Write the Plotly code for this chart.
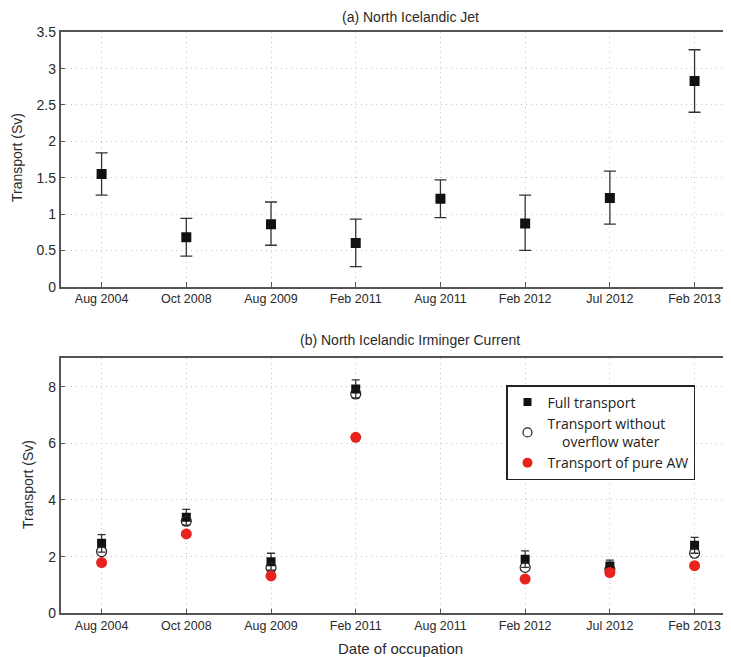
import plotly.graph_objects as go

categories = ["Aug 2004", "Oct 2008", "Aug 2009", "Feb 2011", "Aug 2011", "Feb 2012", "Jul 2012", "Feb 2013"]

# (a) North Icelandic Jet
nij = [1.55, 0.68, 0.86, 0.60, 1.21, 0.87, 1.22, 2.83]
nij_upper = [1.84, 0.94, 1.165, 0.93, 1.47, 1.26, 1.59, 3.26]
nij_lower = [1.26, 0.42, 0.57, 0.275, 0.95, 0.50, 0.86, 2.40]

# (b) North Icelandic Irminger Current (no Aug 2011 value)
niic_full = [2.47, 3.39, 1.82, 7.92, None, 1.91, 1.67, 2.40]
niic_err = [0.31, 0.28, 0.30, 0.32, None, 0.29, 0.21, 0.28]
niic_no_overflow = [2.18, 3.25, 1.61, 7.74, None, 1.62, 1.55, 2.12]
niic_pure_aw = [1.79, 2.80, 1.32, 6.21, None, 1.21, 1.44, 1.68]

err_plus = [u - v for u, v in zip(nij_upper, nij)]
err_minus = [v - l for v, l in zip(nij, nij_lower)]

# page has an 8px body margin: figure is sized to fill the rest of the window
OFF = 8
W, H = 731 - OFF, 657 - OFF


def px(x):
    return (x - OFF) / W


def py(y):
    return 1 - (y - OFF) / H


fig = go.Figure()

fig.add_trace(go.Scatter(
    x=categories, y=nij, mode="markers", xaxis="x", yaxis="y",
    marker=dict(symbol="square", size=10, color="#111111"),
    error_y=dict(type="data", symmetric=False, array=err_plus, arrayminus=err_minus,
                 color="#333333", thickness=1.3, width=6),
    showlegend=False))

fig.add_trace(go.Scatter(
    x=categories, y=niic_full, mode="markers", xaxis="x2", yaxis="y2",
    marker=dict(symbol="square", size=9, color="#111111"),
    error_y=dict(type="data", array=niic_err, color="#333333", thickness=1.3, width=4),
    showlegend=False))
fig.add_trace(go.Scatter(
    x=categories, y=niic_no_overflow, mode="markers", xaxis="x2", yaxis="y2",
    marker=dict(symbol="circle-open", size=10, color="#222222", line=dict(width=1.2)),
    showlegend=False))
fig.add_trace(go.Scatter(
    x=categories, y=niic_pure_aw, mode="markers", xaxis="x2", yaxis="y2",
    marker=dict(symbol="circle", size=11, color="#e8231e"),
    showlegend=False))

# legend-only traces
fig.add_trace(go.Scatter(x=[None], y=[None], mode="markers", xaxis="x2", yaxis="y2",
                         name="Full transport",
                         marker=dict(symbol="square", size=8, color="#111111")))
fig.add_trace(go.Scatter(x=[None], y=[None], mode="markers", xaxis="x2", yaxis="y2",
                         name="Transport without<br>\u00a0\u00a0\u00a0\u00a0overflow water",
                         marker=dict(symbol="circle-open", size=9, color="#222222", line=dict(width=1.2))))
fig.add_trace(go.Scatter(x=[None], y=[None], mode="markers", xaxis="x2", yaxis="y2",
                         name="Transport of pure AW",
                         marker=dict(symbol="circle", size=10, color="#e8231e")))

axis_font = dict(family="Liberation Sans, Arial, sans-serif", color="#2a2a2a")
grid = dict(showgrid=True, gridcolor="#c4c4c4", griddash="1px,4px", gridwidth=1.3)
xcommon = dict(type="category", categoryorder="array", categoryarray=categories,
               range=[-0.484, 7.43], domain=[px(60.6), 1.0], automargin=False,
               showline=True, linecolor="#555555", linewidth=1.5, mirror=True,
               ticks="inside", ticklen=5, tickcolor="#555555",
               tickfont=dict(size=12.5, **axis_font), zeroline=False, fixedrange=True, **grid)
ycommon = dict(showline=True, linecolor="#555555", linewidth=1.5, mirror=False,
               ticks="inside", ticklen=5, tickcolor="#555555", automargin=False,
               tickfont=dict(size=14, **axis_font), zeroline=False, **grid)

fig.update_layout(
    width=W, height=H,
    margin=dict(l=0, r=0, t=0, b=0, autoexpand=False),
    paper_bgcolor="white", plot_bgcolor="white",
    xaxis=dict(anchor="y", **xcommon),
    yaxis=dict(anchor="x", domain=[py(286.7), py(32.3)], range=[0, 3.5],
               tickvals=[0, 0.5, 1, 1.5, 2, 2.5, 3, 3.5],
               ticktext=["0", "0.5", "1", "1.5", "2", "2.5", "3", "3.5"], **ycommon),
    xaxis2=dict(anchor="y2", **xcommon),
    yaxis2=dict(anchor="x2", domain=[py(613.3), py(358.3)], range=[0, 9],
                tickvals=[0, 2, 4, 6, 8], **ycommon),
    legend=dict(x=px(506), y=py(385), xanchor="left", yanchor="top",
                bgcolor="white", bordercolor="#222222", borderwidth=1.5,
                font=dict(family="Open Sans, Liberation Sans, sans-serif", size=14, color="#222222"),
                itemwidth=30, tracegroupgap=0),
    annotations=[
        dict(text="(a) North Icelandic Jet", x=px(410), y=py(17), xref="paper", yref="paper",
             xanchor="center", yanchor="middle", showarrow=False, font=dict(size=14, **axis_font)),
        dict(text="(b) North Icelandic Irminger Current", x=px(410), y=py(340), xref="paper", yref="paper",
             xanchor="center", yanchor="middle", showarrow=False, font=dict(size=14, **axis_font)),
        dict(text="Transport (Sv)", x=px(17), y=py(158), xref="paper", yref="paper",
             xanchor="center", yanchor="middle", showarrow=False, textangle=-90,
             font=dict(size=14, **axis_font)),
        dict(text="Transport (Sv)", x=px(28), y=py(485), xref="paper", yref="paper",
             xanchor="center", yanchor="middle", showarrow=False, textangle=-90,
             font=dict(size=14, **axis_font)),
        dict(text="Date of occupation", x=px(401), y=py(648), xref="paper", yref="paper",
             xanchor="center", yanchor="middle", showarrow=False, font=dict(size=15, **axis_font)),
    ],
)

fig.write_html("out.html")
